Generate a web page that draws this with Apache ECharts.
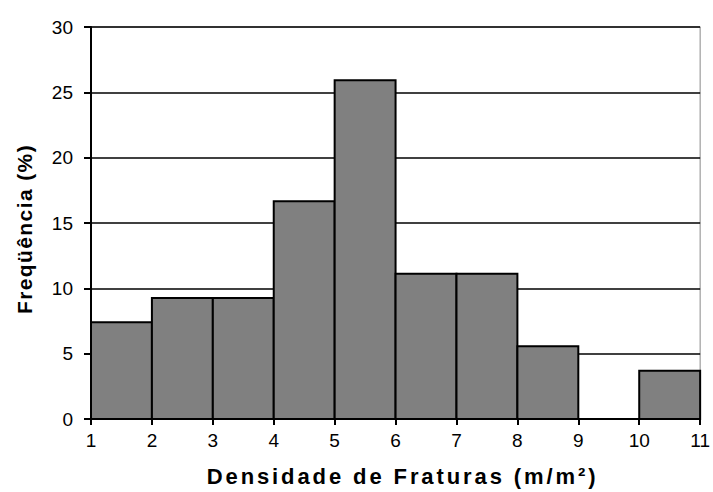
<!DOCTYPE html>
<html><head><meta charset="utf-8">
<script src="https://cdn.jsdelivr.net/npm/echarts@6/dist/echarts.min.js"></script>
<style>html,body{margin:0;padding:0;background:#fff}#c{width:713px;height:492px}</style>
</head><body><div id="c"></div>
<script>
var binStarts = [1,2,3,4,5,6,7,8,9,10];
var freq = [7.41, 9.26, 9.26, 16.67, 25.93, 11.11, 11.11, 5.56, 0, 3.70];
var xTitle = 'Densidade de Fraturas (m/m²)';
var yTitle = 'Freqüência (%)';
var data = binStarts.map(function(s,i){return [s, s+1, freq[i]];});
var chart = echarts.init(document.getElementById('c'), null, {renderer:'svg'});
var F = 'Liberation Sans, Arial, sans-serif';
chart.setOption({
  animation:false,
  grid:{left:91,right:7,top:27,bottom:73,show:true,borderColor:'#888',borderWidth:1,backgroundColor:'transparent'},
  xAxis:{type:'value',min:1,max:11,interval:1,
    name:xTitle,nameLocation:'middle',nameGap:46,
    nameTextStyle:{fontFamily:F,fontSize:22,fontWeight:'bold',color:'#000',padding:[0,0,0,14]},
    axisLine:{show:true,lineStyle:{color:'#000',width:2}},
    axisTick:{show:true,length:6,lineStyle:{color:'#000',width:2}},
    axisLabel:{fontFamily:F,fontSize:19,color:'#000',margin:12},
    splitLine:{show:false}},
  yAxis:{type:'value',min:0,max:30,interval:5,
    name:yTitle,nameLocation:'middle',nameGap:56,
    nameTextStyle:{fontFamily:F,fontSize:21,fontWeight:'bold',color:'#000',padding:[0,12,0,0]},
    axisLine:{show:true,lineStyle:{color:'#000',width:2}},
    axisTick:{show:true,length:7,lineStyle:{color:'#000',width:2}},
    axisLabel:{fontFamily:F,fontSize:19,color:'#000',margin:18},
    splitLine:{show:true,lineStyle:{color:'#000',width:1.5}}},
  series:[{type:'custom',data:data,
    encode:{x:[0,1],y:2},
    renderItem:function(params,api){
      if(api.value(2)<=0) return null;
      var p0=api.coord([api.value(0),0]);
      var p1=api.coord([api.value(1),api.value(2)]);
      return {type:'rect',shape:{x:p0[0],y:p1[1],width:p1[0]-p0[0],height:p0[1]-p1[1]},
        style:{fill:'#808080',stroke:'#000',lineWidth:2}};
    }}]
});
// widen the letter spacing of the axis titles, as in the reference
document.querySelectorAll('#c text').forEach(function(t){
  if(t.textContent===xTitle){t.style.letterSpacing='2.9px';}
  else if(t.textContent===yTitle){t.style.letterSpacing='1.4px';}
});
</script></body></html>
